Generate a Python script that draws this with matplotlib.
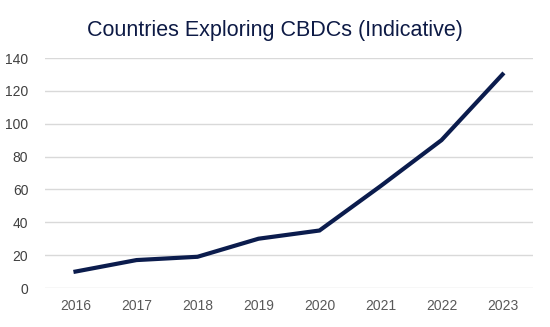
import matplotlib.pyplot as plt

years = ["2016", "2017", "2018", "2019", "2020", "2021", "2022", "2023"]
countries = [10, 17, 19, 30, 35, 62, 90, 130]

plt.rcParams['font.family'] = ['Liberation Sans', 'DejaVu Sans']

fig = plt.figure(figsize=(5.5, 3.27), dpi=100)
ax = fig.add_axes([45 / 550, 39 / 327, 488 / 550, 230 / 327])

x = range(len(years))
ax.plot(x, countries, color="#0b1c4d", linewidth=3, solid_joinstyle="miter")

ax.set_xlim(-0.5, len(years) - 0.5)
ax.set_ylim(0, 140)
ax.set_yticks(range(0, 141, 20))
ax.set_xticks(list(x))
ax.set_xticklabels(years)
ax.yaxis.grid(True, color="#d9d9d9", linewidth=1)
ax.set_axisbelow(True)
for s in ax.spines.values():
    s.set_visible(False)
ax.tick_params(length=0, labelsize=10, colors="#595959", pad=8)
ax.tick_params(axis="y", colors="#404040", pad=12)

fig.text(0.5, 0.89, "Countries Exploring CBDCs (Indicative)", ha="center",
         fontsize=15.5, color="#0d1a45")

fig.savefig("out.png", dpi=100)
